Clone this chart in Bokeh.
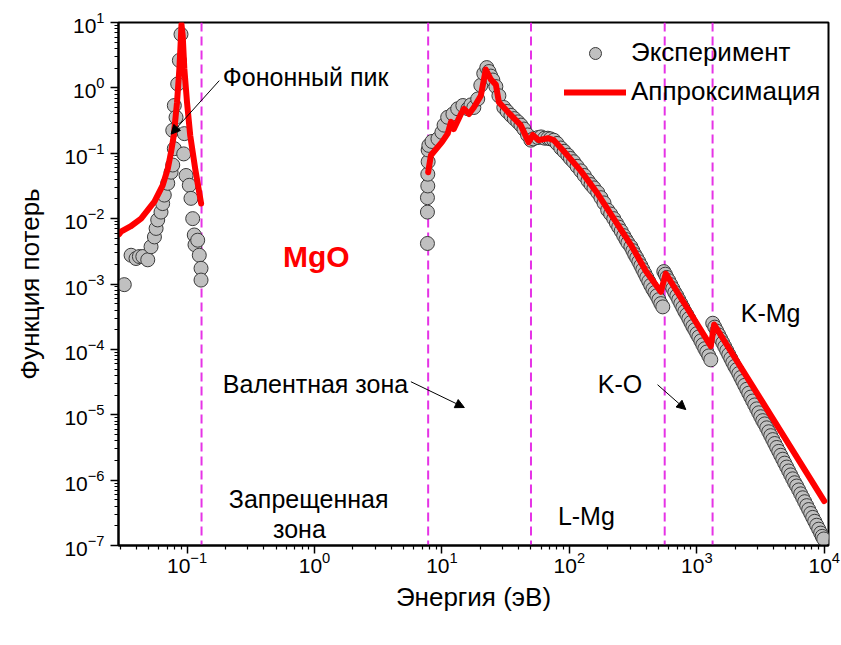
import numpy as np
from bokeh.plotting import figure
from bokeh.models import (Range1d, FixedTicker, LogTickFormatter, Span, Label, Arrow,
                          NormalHead, Legend, LegendItem, ColumnDataSource)
from bokeh.embed import file_html
from bokeh.resources import INLINE

# ---------------- data ----------------
# Experiment, phonon region (energy eV, log10 loss function)
exp_ph_x = [0.0322, 0.0364, 0.0398, 0.0423, 0.0450, 0.0492, 0.0522, 0.0555, 0.0572, 0.0589,
            0.0625, 0.0644, 0.0663, 0.0706, 0.0750, 0.0773, 0.0795, 0.0773, 0.0820, 0.0795,
            0.0845, 0.0871, 0.0897, 0.0953, 0.0942, 0.0983, 0.1042, 0.1074, 0.1108, 0.1140,
            0.1155, 0.1213, 0.1248, 0.1288, 0.1288]
exp_ph_logy = [-3.01, -2.56, -2.61, -2.58, -2.58, -2.63, -2.43, -2.28, -2.15, -2.02,
               -1.90, -1.77, -1.64, -1.46, -1.29, -1.18, -0.93, -0.65, -0.45, -0.27,
               0.06, 0.42, 0.82, -0.70, -1.01, -1.34, -1.49, -1.69, -2.00, -2.25,
               -2.40, -2.33, -2.56, -2.76, -2.94]

# Experiment, valence / core region
exp_main_x = [7.7, 7.7, 7.7, 7.75, 7.75, 7.8, 7.8, 7.9, 8.36, 9.31,
              10.0, 10.4, 11.1, 12.2, 13.3, 14.6, 16.0, 16.9, 17.8, 19.1,
              20.2, 21.3, 22.5, 23.4, 24.2, 25.1, 26.5, 28.0, 30.6, 32.5,
              34.8, 37.0, 39.4, 41.7, 44.0, 47.0, 49.9, 52.0, 56.6, 60.0,
              64.0, 67.8, 71.0, 75.5, 80.0, 85.7, 91.0, 97.3, 102, 108,
              115, 123, 131, 140, 148, 156, 167, 177, 187, 200,
              211, 223, 234, 244, 255, 267, 278, 288, 304, 315,
              326, 338, 351, 364, 377, 391, 405, 420, 435, 452,
              469, 486, 504, 522, 541, 551, 582, 625, 672, 722,
              777, 835, 898, 965, 1037, 1115, 1198, 1288, 1334, 1435,
              1542, 1658, 1782, 1915, 2059, 2213, 2378, 2557, 2748, 2954,
              3175, 3413, 3669, 3943, 4238, 4556, 4897, 5264, 5658, 6081,
              6537, 7026, 7552, 8117, 8725, 9378, 9910]
exp_main_logy = [-2.38, -1.90, -1.68, -1.50, -1.32, -1.13, -0.95, -0.88, -0.82, -0.78,
                 -0.68, -0.57, -0.45, -0.40, -0.32, -0.27, -0.32, -0.26, -0.30, -0.17,
                 0.04, 0.22, 0.31, 0.25, 0.18, 0.12, 0.02, -0.12, -0.30, -0.36,
                 -0.42, -0.47, -0.52, -0.57, -0.63, -0.72, -0.80, -0.78, -0.76, -0.75,
                 -0.77, -0.77, -0.78, -0.80, -0.85, -0.92, -0.97, -1.03, -1.08, -1.13,
                 -1.20, -1.27, -1.34, -1.42, -1.48, -1.53, -1.60, -1.68, -1.76, -1.87,
                 -1.93, -2.00, -2.07, -2.13, -2.19, -2.26, -2.32, -2.37, -2.43, -2.49,
                 -2.55, -2.60, -2.66, -2.72, -2.78, -2.84, -2.90, -2.96, -3.02, -3.08,
                 -3.13, -3.18, -3.24, -3.30, -3.35, -2.81, -2.90, -3.01, -3.13, -3.24,
                 -3.36, -3.47, -3.59, -3.70, -3.81, -3.93, -4.04, -4.16, -3.60, -3.72,
                 -3.84, -3.96, -4.08, -4.20, -4.31, -4.43, -4.55, -4.67, -4.79, -4.91,
                 -5.03, -5.14, -5.26, -5.38, -5.50, -5.62, -5.74, -5.86, -5.98, -6.09,
                 -6.21, -6.33, -6.45, -6.57, -6.69, -6.81, -6.90]

# Experiment, additional densely packed points along the K-O and K-Mg tails
exp_tail_x = [566, 603, 648, 697, 749, 805, 866, 931, 1001, 1076,
              1156, 1243, 1384, 1488, 1600, 1719, 1848, 1987, 2136, 2295,
              2467, 2651, 2850, 3063, 3292, 3539, 3804, 4089, 4396, 4725,
              5079, 5459, 5867, 6306, 6779, 7287, 7833, 8419, 9049, 9640]
exp_tail_logy = [-2.85, -2.95, -3.07, -3.18, -3.30, -3.42, -3.53, -3.65, -3.76, -3.87,
                 -3.99, -4.10, -3.66, -3.78, -3.90, -4.02, -4.14, -4.26, -4.37, -4.49,
                 -4.61, -4.73, -4.85, -4.97, -5.09, -5.20, -5.32, -5.44, -5.56, -5.68,
                 -5.80, -5.92, -6.04, -6.15, -6.27, -6.39, -6.51, -6.63, -6.75, -6.86]

# Approximation (fit), phonon peak
fit_ph_x = [0.0293, 0.0303, 0.0360, 0.0436, 0.0555, 0.0644, 0.0706, 0.0750, 0.0787, 0.0835,
            0.0871, 0.0897, 0.0905, 0.0925, 0.0953, 0.100, 0.106, 0.116, 0.129]
fit_ph_logy = [-2.24, -2.20, -2.12, -2.00, -1.74, -1.49, -1.24, -0.98, -0.73, -0.22,
               0.29, 0.80, 0.97, 0.80, 0.29, -0.22, -0.73, -1.24, -1.77]

# Approximation (fit), valence / core region
fit_main_x = [7.8, 8.2, 10.0, 11.1, 11.8, 12.4, 14.1, 14.9, 16.3, 17.8,
              20.2, 22.1, 24.2, 26.5, 28.0, 33.0, 41.5, 47.9, 51.6, 57.6,
              67.8, 75.5, 90.5, 123, 167, 223, 304, 398, 522, 571,
              1288, 1368, 10000]
fit_main_logy = [-1.29, -1.03, -0.83, -0.70, -0.52, -0.63, -0.40, -0.32, -0.40, -0.30,
                 -0.12, 0.28, 0.13, 0.05, -0.22, -0.37, -0.57, -0.83, -0.72, -0.80,
                 -0.77, -0.80, -0.97, -1.27, -1.62, -2.00, -2.40, -2.80, -3.12, -2.84,
                 -3.95, -3.62, -6.32]

# Vertical dashed boundaries (eV)
edges = [0.13, 7.8, 50.0, 560.0, 1330.0]

x_major = [0.1, 1, 10, 100, 1000, 10000]
y_major = [1e-7, 1e-6, 1e-5, 1e-4, 1e-3, 1e-2, 1e-1, 1, 10]

FONT = "Liberation Sans"

# ---------------- figure ----------------
p = figure(width=841, height=645, x_axis_type="log", y_axis_type="log",
           x_range=Range1d(0.029, 1.08e4), y_range=Range1d(1e-7, 1e1),
           output_backend="svg", toolbar_location=None,
           min_border_left=118, min_border_right=13, min_border_top=22,
           min_border_bottom=100)
p.grid.visible = False
p.outline_line_color = "black"
p.outline_line_width = 2
p.background_fill_color = "white"

x_minor = [m * 10.0 ** e for e in range(-2, 4) for m in range(2, 10)]
y_minor = [m * 10.0 ** e for e in range(-7, 1) for m in range(2, 10)]
p.xaxis.ticker = FixedTicker(ticks=x_major, minor_ticks=x_minor)
p.yaxis.ticker = FixedTicker(ticks=y_major, minor_ticks=y_minor)
p.xaxis.formatter = LogTickFormatter()
p.yaxis.formatter = LogTickFormatter()

for ax in (p.xaxis[0], p.yaxis[0]):
    ax.axis_line_width = 2
    ax.axis_line_color = "black"
    ax.major_tick_in = 0
    ax.major_tick_out = 8
    ax.minor_tick_in = 0
    ax.minor_tick_out = 4
    ax.major_tick_line_width = 1.5
    ax.minor_tick_line_width = 1.2
    ax.major_tick_line_color = "black"
    ax.minor_tick_line_color = "black"
    ax.major_label_text_font = FONT
    ax.major_label_text_font_size = "21px"
    ax.major_label_text_color = "black"
    ax.axis_label_text_font = FONT
    ax.axis_label_text_font_size = "26px"
    ax.axis_label_text_font_style = "normal"
    ax.axis_label_text_color = "black"

p.xaxis.axis_label = "Энергия (эВ)"
p.yaxis.axis_label = "Функция потерь"
p.xaxis.major_label_standoff = -2
p.yaxis.major_label_standoff = 6
p.xaxis.axis_label_standoff = 6
p.yaxis.axis_label_standoff = 16

for e in edges:
    p.add_layout(Span(location=e, dimension="height", line_color="#e633e6",
                      line_width=2, line_dash="9 5", level="underlay"))

exp_x = np.array(exp_ph_x + exp_main_x + exp_tail_x, dtype=float)
exp_y = 10.0 ** np.array(exp_ph_logy + exp_main_logy + exp_tail_logy)
order = np.argsort(exp_x, kind="stable")
src_exp = ColumnDataSource(dict(x=exp_x[order], y=exp_y[order]))
r_exp = p.scatter("x", "y", source=src_exp, marker="circle", size=14,
                  fill_color="#c0c0c0", line_color="#3a3a3a", line_width=1)

src_fit_ph = ColumnDataSource(dict(x=fit_ph_x, y=10.0 ** np.array(fit_ph_logy)))
src_fit_main = ColumnDataSource(dict(x=fit_main_x, y=10.0 ** np.array(fit_main_logy)))
r_fit1 = p.line("x", "y", source=src_fit_ph, line_color="#ff0000", line_width=6,
                line_join="round", line_cap="round")
r_fit2 = p.line("x", "y", source=src_fit_main, line_color="#ff0000", line_width=6,
                line_join="round", line_cap="round")

legend = Legend(items=[LegendItem(label="Эксперимент", renderers=[r_exp]),
                       LegendItem(label="Аппроксимация", renderers=[r_fit2])],
                location=(446, 438), orientation="vertical",
                border_line_alpha=0, background_fill_alpha=0,
                padding=0, margin=0, spacing=8,
                glyph_width=62, glyph_height=30, label_height=30,
                label_standoff=5, label_text_font=FONT,
                label_text_font_size="26px", label_text_color="black")
p.add_layout(legend)

def add_text(x, y, text, size="25px", color="black", style="normal"):
    p.add_layout(Label(x=x, y=y, text=text, text_font=FONT, text_font_size=size,
                       text_color=color, text_font_style=style,
                       text_align="left", text_baseline="middle"))

add_text(0.191, 1.45, "Фононный пик")
add_text(0.566, 2.6e-3, "MgO", size="30px", color="#ff0000", style="bold")
add_text(0.191, 2.95e-5, "Валентная зона")
add_text(0.213, 5.1e-7, "Запрещенная")
add_text(0.473, 1.8e-7, "зона")
add_text(81.3, 2.8e-7, "L-Mg")
add_text(167, 2.95e-5, "K-O")
add_text(2213, 3.55e-4, "K-Mg")

def add_arrow(x0, y0, x1, y1):
    p.add_layout(Arrow(end=NormalHead(size=9, fill_color="black", line_color="black"),
                       x_start=x0, y_start=y0, x_end=x1, y_end=y1,
                       line_color="black", line_width=1))

add_arrow(0.179, 1.29, 0.075, 0.196)
add_arrow(5.71, 3.2e-5, 15.0, 1.29e-5)
add_arrow(492, 2.88e-5, 820, 1.2e-5)

open("out.html", "w").write(file_html(p, INLINE))
